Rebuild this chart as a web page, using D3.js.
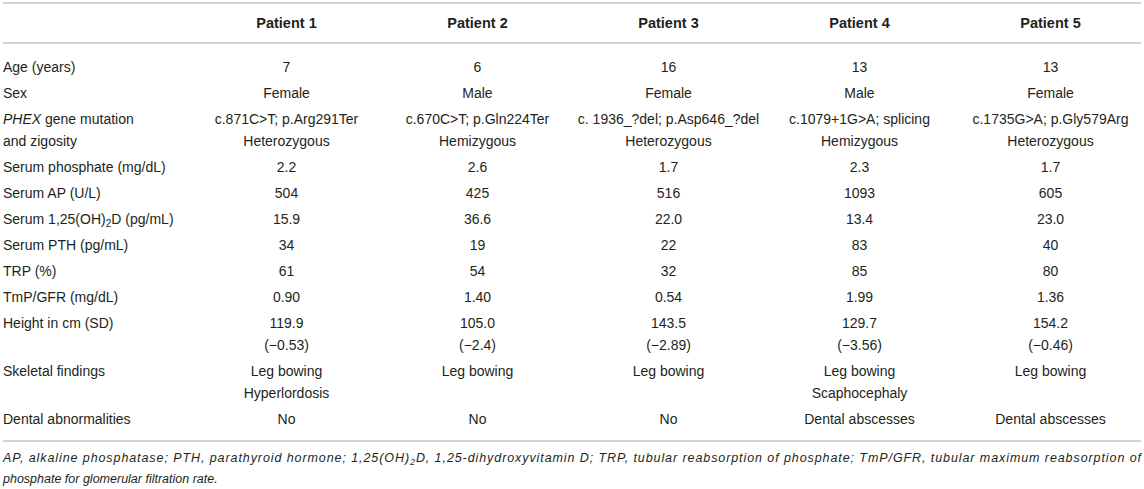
<!DOCTYPE html>
<html>
<head>
<meta charset="utf-8">
<script src="https://cdn.jsdelivr.net/npm/d3@7"></script>
<style>
  body { margin: 0; background: #fff; }
  text { font-family: 'Liberation Sans', Arial, sans-serif; fill: #231f20; }
</style>
</head>
<body>
<script>
// column headers
const patients = ['Patient 1', 'Patient 2', 'Patient 3', 'Patient 4', 'Patient 5'];

// row labels: each entry is a list of lines, each line a list of [text, style] runs
const rowLabels = [
  [[['Age (years)']]],
  [[['Sex']]],
  [[['PHEX', 'i'], [' gene mutation']], [['and zigosity']]],
  [[['Serum phosphate (mg/dL)']]],
  [[['Serum AP (U/L)']]],
  [[['Serum 1,25(OH)'], ['2', 'sub'], ['D (pg/mL)']]],
  [[['Serum PTH (pg/mL)']]],
  [[['TRP (%)']]],
  [[['TmP/GFR (mg/dL)']]],
  [[['Height in cm (SD)']]],
  [[['Skeletal findings']]],
  [[['Dental abnormalities']]],
];

// values per patient
const age = ['7', '6', '16', '13', '13'];
const sex = ['Female', 'Male', 'Female', 'Male', 'Female'];
const mutation = ['c.871C>T; p.Arg291Ter', 'c.670C>T; p.Gln224Ter', 'c. 1936_?del; p.Asp646_?del', 'c.1079+1G>A; splicing', 'c.1735G>A; p.Gly579Arg'];
const zygosity = ['Heterozygous', 'Hemizygous', 'Heterozygous', 'Hemizygous', 'Heterozygous'];
const phosphate = ['2.2', '2.6', '1.7', '2.3', '1.7'];
const serumAP = ['504', '425', '516', '1093', '605'];
const vitaminD = ['15.9', '36.6', '22.0', '13.4', '23.0'];
const pth = ['34', '19', '22', '83', '40'];
const trp = ['61', '54', '32', '85', '80'];
const tmpGfr = ['0.90', '1.40', '0.54', '1.99', '1.36'];
const heightCm = ['119.9', '105.0', '143.5', '129.7', '154.2'];
const heightSd = ['(\u22120.53)', '(\u22122.4)', '(\u22122.89)', '(\u22123.56)', '(\u22120.46)'];
const skeletal1 = ['Leg bowing', 'Leg bowing', 'Leg bowing', 'Leg bowing', 'Leg bowing'];
const skeletal2 = ['Hyperlordosis', '', '', 'Scaphocephaly', ''];
const dental = ['No', 'No', 'No', 'Dental abscesses', 'Dental abscesses'];

// footnote lines
const footnote = [
  [['AP, alkaline phosphatase; PTH, parathyroid hormone; 1,25(OH)'], ['2', 'sub'], ['D, 1,25-dihydroxyvitamin D; TRP, tubular reabsorption of phosphate; TmP/GFR, tubular maximum reabsorption of']],
  [['phosphate for glomerular filtration rate.']],
];

const cellLines = [
  [age], [sex], [mutation, zygosity], [phosphate], [serumAP], [vitaminD],
  [pth], [trp], [tmpGfr], [heightCm, heightSd], [skeletal1, skeletal2], [dental],
];

const width = 1144;
const height = 489;
const fontSize = 14;
const lineGap = 22;
const rowGap = 26;

const svg = d3.select('body').append('svg')
  .attr('width', width)
  .attr('height', height);

const x = d3.scaleBand()
  .domain(patients)
  .range([191, 1146]);

// offset of the first line of each row, in px below the first body baseline
const rowStarts = [];
let cur = 0;
cellLines.forEach((lines) => {
  rowStarts.push(cur);
  cur += (lines.length - 1) * lineGap + rowGap;
});
const y = d3.scaleLinear().domain([0, 1]).range([72, 73]);

function addRuns(textSel, runs, size) {
  let prevSub = false;
  runs.forEach(([str, style]) => {
    const t = textSel.append('tspan').text(str);
    if (style === 'i') t.style('font-style', 'italic');
    if (style === 'sub') {
      t.attr('font-size', size * 0.72).attr('dy', 3);
      prevSub = true;
    } else if (prevSub) {
      t.attr('dy', -3);
      prevSub = false;
    }
  });
}

// rules
const rules = [3, 43, 441];
svg.selectAll('line.rule')
  .data(rules)
  .join('line')
  .attr('class', 'rule')
  .attr('x1', 3)
  .attr('x2', 1141)
  .attr('y1', (d) => d)
  .attr('y2', (d) => d)
  .attr('stroke', '#c4c4c4')
  .attr('stroke-width', 1.5);

// header
svg.selectAll('text.head')
  .data(patients)
  .join('text')
  .attr('class', 'head')
  .attr('x', (d) => x(d) + x.bandwidth() / 2)
  .attr('y', 28)
  .attr('text-anchor', 'middle')
  .attr('font-size', 14.5)
  .attr('font-weight', 'bold')
  .text((d) => d);

// row labels
rowLabels.forEach((lines, r) => {
  lines.forEach((runs, li) => {
    const t = svg.append('text')
      .attr('x', 3)
      .attr('y', y(rowStarts[r] + li * lineGap))
      .attr('font-size', fontSize);
    addRuns(t, runs, fontSize);
  });
});

// cells
cellLines.forEach((lines, r) => {
  lines.forEach((vals, li) => {
    svg.append('g')
      .selectAll('text')
      .data(vals.map((v, i) => ({v, p: patients[i]})))
      .join('text')
      .attr('x', (d) => x(d.p) + x.bandwidth() / 2)
      .attr('y', y(rowStarts[r] + li * lineGap))
      .attr('text-anchor', 'middle')
      .attr('font-size', fontSize)
      .text((d) => d.v);
  });
});

// footnote
footnote.forEach((runs, i) => {
  const t = svg.append('text')
    .attr('x', 3)
    .attr('y', 462 + i * 21)
    .attr('font-size', 12.5)
    .style('font-style', 'italic');
  addRuns(t, runs, 12.5);
  if (i === 0) t.attr('textLength', 1138).attr('lengthAdjust', 'spacing');
});
</script>
</body>
</html>
